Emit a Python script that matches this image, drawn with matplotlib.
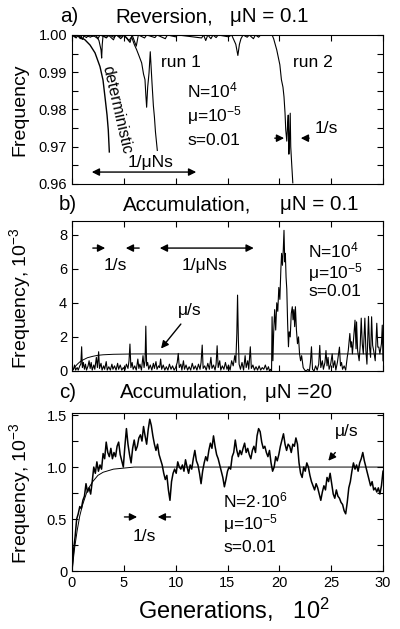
import numpy as np
import matplotlib
matplotlib.use("Agg")
import matplotlib.pyplot as plt

plt.rcParams['font.family'] = ['Liberation Sans', 'DejaVu Sans']
plt.rcParams['mathtext.fontset'] = 'custom'
plt.rcParams['mathtext.rm'] = 'Liberation Sans'
plt.rcParams['mathtext.it'] = 'Liberation Sans:italic'

# ---------------- data (x in units of 10^2 generations) ----------------
det_x = [0.0, 0.39, 0.77, 1.25, 1.74, 2.22, 2.70, 2.99, 3.18, 3.38, 3.50, 3.60]
det_y = [1.0, 0.9999, 0.9995, 0.9987, 0.9973, 0.9952, 0.9915, 0.9879, 0.9834, 0.9785, 0.9745, 0.9686]

run1_x = [0.0, 0.3, 0.5, 0.8, 1.0, 1.4, 1.6, 2.0, 2.3, 2.6, 2.80, 2.86, 2.92, 3.0, 3.3, 3.6,
          4.0, 4.3, 4.7, 5.0, 5.3, 5.5, 5.75, 6.0, 6.24, 6.45, 6.72, 6.90, 7.04, 7.12, 7.20,
          7.30, 7.43, 7.55, 7.62, 7.72, 7.85, 7.95, 8.05, 8.23]
run1_y = [1.0, 0.9995, 1.0, 0.9990, 1.0, 0.9993, 1.0, 0.9996, 1.0, 0.9985, 0.9960, 0.9938, 0.9975,
          1.0, 0.9992, 1.0, 0.9994, 1.0, 0.9990, 1.0, 0.9992, 0.9985, 0.9995, 0.9975, 0.9960,
          0.9945, 0.9925, 0.9895, 0.9880, 0.9840, 0.9806, 0.9860, 0.9898, 0.9955, 0.9920,
          0.9870, 0.9810, 0.9780, 0.9740, 0.9690]

run2_x = [0.0, 0.4, 0.6, 1.0, 1.2, 1.8, 2.0, 2.5, 2.7, 3.3, 3.5, 4.0, 4.2, 4.8, 5.0, 5.6, 5.8,
          6.2, 6.4, 7.0, 7.2, 8.0, 8.2, 9.0, 9.2, 10.0, 10.2, 12.5, 12.7, 12.9, 13.1, 13.4,
          13.6, 13.9, 14.1, 15.1, 15.4, 15.8, 16.0, 16.15, 16.3, 16.5, 16.9, 17.1, 17.5, 17.7,
          18.0, 18.2, 19.3, 19.45, 19.60, 19.75, 19.90, 20.05, 20.20, 20.35, 20.45, 20.55,
          20.62, 20.72, 20.80, 20.86, 20.92, 20.98, 21.05, 21.10, 21.20, 21.30]
run2_y = [1.0, 0.9992, 1.0, 0.9988, 1.0, 0.9994, 1.0, 0.9990, 1.0, 0.9993, 1.0, 0.9987, 1.0,
          0.9994, 1.0, 0.9980, 1.0, 0.9970, 1.0, 0.9992, 1.0, 0.9993, 1.0, 0.9990, 1.0, 0.9995,
          1.0, 0.9992, 1.0, 0.9985, 1.0, 0.9990, 1.0, 0.9993, 1.0, 0.9995, 1.0, 0.9975, 0.9945,
          0.9975, 0.9990, 1.0, 0.9994, 1.0, 0.9990, 1.0, 0.9994, 1.0, 1.0, 0.9990, 0.9975,
          0.9960, 0.9940, 0.9920, 0.9880, 0.9860, 0.9834, 0.9790, 0.9745, 0.9715, 0.9760,
          0.9785, 0.9680, 0.9720, 0.9790, 0.9700, 0.9650, 0.9603]

# mu/s approach curve (panels b and c)
musat_x = [0.0, 0.25, 0.5, 0.75, 1.0, 1.5, 2.0, 2.5, 3.0, 4.0, 5.0, 6.0, 30.0]
musat_y = [0.0, 0.22, 0.39, 0.53, 0.63, 0.78, 0.86, 0.92, 0.95, 0.98, 0.99, 1.0, 1.0]

accb_pts = [
    (0.00, 0.00), (0.15, 0.10), (0.25, 0.35), (0.35, 0.05), (0.50, 0.20), (0.60, 0.05),
    (0.75, 0.30), (0.85, 0.40), (0.93, 1.42), (1.00, 0.20), (1.10, 0.50), (1.20, 0.10),
    (1.30, 0.40), (1.40, 0.05), (1.55, 0.30), (1.65, 0.60), (1.75, 0.15), (1.85, 0.50),
    (1.95, 0.05), (2.10, 0.35), (2.20, 0.10), (2.35, 0.80), (2.45, 0.20), (2.57, 1.13),
    (2.65, 0.15), (2.80, 0.45), (2.90, 0.05), (3.05, 0.30), (3.15, 0.10), (3.30, 0.55),
    (3.40, 0.05), (3.55, 0.25), (3.70, 0.05), (3.85, 0.40), (3.95, 0.10), (4.10, 0.30),
    (4.25, 0.05), (4.40, 0.45), (4.50, 0.10), (4.65, 0.35), (4.80, 0.05), (4.95, 0.20),
    (5.10, 0.05), (5.25, 0.40), (5.40, 0.15), (5.50, 0.60), (5.59, 1.58), (5.68, 0.20),
    (5.80, 0.50), (5.90, 0.10), (6.05, 0.30), (6.20, 0.05), (6.35, 0.70), (6.45, 0.15),
    (6.55, 0.40), (6.70, 0.05), (6.85, 0.90), (6.95, 0.20), (7.05, 0.60), (7.12, 2.63),
    (7.20, 0.30), (7.30, 0.50), (7.40, 0.10), (7.55, 0.35), (7.70, 0.05), (7.85, 0.45),
    (7.95, 0.15), (8.10, 0.55), (8.20, 0.10), (8.35, 0.30), (8.45, 0.20), (8.55, 0.70),
    (8.65, 0.10), (8.80, 0.35), (8.95, 0.05), (9.10, 0.25), (9.25, 0.05), (9.40, 0.40),
    (9.55, 0.10), (9.70, 0.30), (9.85, 0.05), (10.00, 0.20), (10.15, 0.50), (10.25, 1.03),
    (10.35, 0.20), (10.50, 0.40), (10.60, 0.05), (10.75, 0.60), (10.85, 0.10), (11.00, 0.35),
    (11.15, 0.05), (11.30, 0.25), (11.45, 0.05), (11.60, 0.45), (11.75, 0.10), (11.90, 0.30),
    (12.05, 0.05), (12.20, 0.40), (12.35, 0.10), (12.45, 0.50), (12.56, 1.52), (12.65, 0.15),
    (12.80, 0.30), (12.95, 0.05), (13.10, 0.45), (13.25, 0.10), (13.40, 0.80), (13.50, 0.15),
    (13.65, 0.35), (13.80, 0.05), (13.90, 0.40), (14.00, 1.48), (14.10, 0.20), (14.25, 0.60),
    (14.35, 0.05), (14.50, 0.30), (14.65, 0.10), (14.80, 0.50), (14.95, 0.10), (15.10, 0.35),
    (15.25, 0.05), (15.40, 0.60), (15.55, 0.30), (15.70, 0.90), (15.80, 0.50), (15.90, 2.20),
    (15.97, 4.45), (16.05, 1.80), (16.12, 0.40), (16.25, 0.10), (16.40, 0.50), (16.55, 0.05),
    (16.70, 0.90), (16.80, 0.20), (16.95, 0.60), (17.05, 0.10), (17.20, 1.42), (17.30, 0.15),
    (17.45, 0.35), (17.60, 0.05), (17.75, 0.25), (17.90, 0.05), (18.05, 0.30), (18.20, 0.05),
    (18.35, 0.20), (18.50, 0.10), (18.65, 0.35), (18.80, 0.05), (18.95, 0.25), (19.05, 0.00),
    (19.15, 0.10), (19.25, 0.00), (19.30, 3.18), (19.38, 0.60), (19.45, 2.20), (19.55, 3.60),
    (19.65, 2.40), (19.75, 4.00), (19.85, 3.50), (19.95, 4.90), (20.05, 4.20), (20.15, 6.00),
    (20.22, 6.90), (20.30, 6.20), (20.38, 7.10), (20.45, 8.25), (20.52, 6.40), (20.58, 6.90),
    (20.65, 5.50), (20.72, 4.80), (20.80, 2.80), (20.88, 1.42), (20.95, 2.30), (21.05, 2.00),
    (21.15, 3.37), (21.25, 3.77), (21.32, 3.00), (21.40, 3.60), (21.48, 2.60), (21.55, 3.77),
    (21.65, 2.40), (21.75, 1.60), (21.85, 2.00), (21.95, 1.00), (22.05, 0.60), (22.15, 0.90),
    (22.30, 0.20), (22.45, 0.05), (22.60, 0.00), (22.75, 0.10), (22.90, 0.00), (23.00, 0.50),
    (23.10, 1.42), (23.20, 0.10), (23.35, 0.00), (23.50, 0.30), (23.65, 0.05), (23.80, 0.40),
    (23.90, 1.50), (24.00, 0.20), (24.15, 0.60), (24.25, 0.10), (24.40, 0.50), (24.50, 1.20),
    (24.60, 0.30), (24.70, 0.80), (24.80, 0.10), (24.95, 0.40), (25.10, 1.00), (25.20, 0.20),
    (25.35, 0.60), (25.45, 0.05), (25.60, 0.50), (25.80, 1.40), (25.90, 0.30), (26.00, 0.50),
    (26.10, 0.10), (26.25, 0.30), (26.40, 0.05), (26.55, 0.80), (26.65, 1.20), (26.80, 2.20),
    (26.90, 1.40), (26.97, 1.71), (27.05, 1.00), (27.15, 1.80), (27.30, 2.98), (27.40, 1.30),
    (27.45, 2.88), (27.55, 1.20), (27.70, 0.60), (27.80, 1.50), (27.90, 3.10), (28.00, 1.60),
    (28.10, 1.00), (28.25, 3.10), (28.35, 1.20), (28.45, 0.40), (28.60, 3.20), (28.70, 1.40),
    (28.80, 0.80), (28.90, 3.18), (29.00, 1.50), (29.10, 1.20), (29.25, 0.60), (29.40, 2.80),
    (29.50, 1.40), (29.60, 1.40), (29.70, 1.00), (29.85, 1.60), (29.93, 2.69), (30.00, 0.60),
]
accb_x = [p[0] for p in accb_pts]
accb_y = [p[1] for p in accb_pts]

accc_y = [
    0.00, 0.20, 0.33, 0.50, 0.55, 0.62, 0.60, 0.68, 0.72, 0.84, 0.76, 0.80, 0.74, 0.86, 1.00,
    0.94, 1.05, 0.96, 1.02, 0.98, 1.13, 1.08, 1.24, 1.14, 1.10, 1.18, 1.08, 1.14, 1.10, 1.20,
    1.24, 1.12, 1.06, 1.00, 1.20, 1.37, 1.22, 1.12, 1.04, 1.18, 1.26, 1.16, 1.20, 1.28, 1.31,
    1.25, 1.39, 1.30, 1.22, 1.36, 1.46, 1.40, 1.30, 1.22, 1.16, 1.22, 1.12, 1.07, 1.02, 0.94,
    0.88, 0.92, 0.78, 0.68, 0.86, 0.94, 0.98, 0.94, 1.05, 1.00, 0.98, 1.02, 0.96, 1.07, 1.00,
    0.94, 1.02, 0.98, 1.08, 1.16, 1.06, 1.02, 0.94, 0.84, 0.96, 1.04, 1.10, 1.06, 1.16, 1.23,
    1.18, 1.30, 1.20, 1.12, 1.08, 1.02, 0.96, 0.90, 0.81, 0.88, 0.96, 1.00, 0.98, 1.10, 1.14,
    1.26, 1.16, 1.10, 1.16, 1.12, 1.18, 1.23, 1.14, 1.18, 1.12, 1.08, 1.16, 1.20, 1.14, 1.30,
    1.37, 1.34, 1.24, 1.18, 1.20, 1.14, 1.10, 1.16, 1.04, 0.96, 1.00, 1.10, 1.06, 1.12, 1.20,
    1.26, 1.32, 1.22, 1.16, 1.22, 1.20, 1.14, 1.22, 1.20, 1.28, 1.22, 1.04, 0.94, 0.90, 1.00,
    0.96, 1.04, 1.00, 0.92, 0.86, 0.82, 0.78, 0.84, 0.80, 0.74, 0.68, 0.76, 0.82, 0.78, 0.90,
    0.86, 0.94, 0.84, 0.74, 0.70, 0.78, 0.72, 0.70, 0.66, 0.64, 0.58, 0.55, 0.66, 0.80, 0.86,
    0.96, 1.04, 0.98, 1.02, 0.96, 1.04, 1.08, 1.14, 1.06, 1.00, 0.94, 0.88, 0.82, 0.86, 0.78,
    0.80, 0.76, 0.80, 0.74, 0.82, 0.96,
]
accc_x = np.linspace(0, 30, len(accc_y))

x_ticks = [0, 5, 10, 15, 20, 25, 30]

# ---------------- figure ----------------
fig = plt.figure(figsize=(4.0, 6.29), dpi=100)
L, W = 0.18, 0.7775
ax_a = fig.add_axes([L, 0.7075, W, 0.2369])
ax_b = fig.add_axes([L, 0.4102, W, 0.2385])
ax_c = fig.add_axes([L, 0.0922, W, 0.2512])

FS_T = 14.8
FS_Y = 14
FS_ANN = 12.5
FS_TICK = 10.5
lw_data = 0.8

for ax in (ax_a, ax_b, ax_c):
    ax.set_xlim(0, 30)
    ax.set_xticks(x_ticks)
    ax.tick_params(which='both', direction='in', top=True, right=True, labelsize=FS_TICK)
    ax.tick_params(which='major', length=4, width=0.8)
    ax.tick_params(which='minor', length=4, width=0.8)
    for s in ax.spines.values():
        s.set_linewidth(0.8)

ax_a.tick_params(labelbottom=False)
ax_b.tick_params(labelbottom=False)

# ---- panel a ----
ax_a.plot(det_x, det_y, color='black', lw=1.0)
ax_a.plot(run1_x, run1_y, color='black', lw=lw_data)
ax_a.plot(run2_x, run2_y, color='black', lw=lw_data)
ax_a.set_ylim(0.96, 1.0)
ax_a.set_yticks([0.96, 0.97, 0.98, 0.99, 1.00])
ax_a.set_yticks([0.965, 0.975, 0.985, 0.995], minor=True)
ax_a.set_yticklabels(['0.96', '0.97', '0.98', '0.99', '1.00'])
ax_a.text(4.3, 0.9800, 'deterministic', rotation=-77, ha='center', va='center', fontsize=11.5)
ax_a.text(10.5, 0.9927, 'run 1', ha='center', va='center', fontsize=FS_ANN)
ax_a.text(23.2, 0.9927, 'run 2', ha='center', va='center', fontsize=FS_ANN)
ax_a.text(11.1, 0.9852, r'N=10$^{4}$', ha='left', va='center', fontsize=FS_ANN)
ax_a.text(11.1, 0.9785, r'μ=10$^{-5}$', ha='left', va='center', fontsize=FS_ANN)
ax_a.text(11.1, 0.9718, 's=0.01', ha='left', va='center', fontsize=FS_ANN)
ax_a.text(23.4, 0.9750, '1/s', ha='left', va='center', fontsize=FS_ANN)
arw = dict(arrowstyle='-|>', color='black', lw=1.0, mutation_scale=11)
ax_a.annotate('', xy=(20.73, 0.9723), xytext=(19.29, 0.9723), arrowprops=arw)
ax_a.annotate('', xy=(21.8, 0.9723), xytext=(23.14, 0.9723), arrowprops=arw)
ax_a.text(7.6, 0.9659, '1/μNs', ha='center', va='center', fontsize=FS_ANN)
ax_a.annotate('', xy=(1.64, 0.9632), xytext=(12.25, 0.9632),
              arrowprops=dict(arrowstyle='<|-|>', color='black', lw=1.0, mutation_scale=11))

# ---- panel b ----
ax_b.plot(musat_x, musat_y, color='black', lw=0.7)
ax_b.plot(accb_x, accb_y, color='black', lw=lw_data)
ax_b.set_ylim(0, 8.8)
ax_b.set_yticks([0, 2, 4, 6, 8])
ax_b.annotate('', xy=(3.47, 7.21), xytext=(1.74, 7.21), arrowprops=arw)
ax_b.annotate('', xy=(4.92, 7.21), xytext=(6.75, 7.21), arrowprops=arw)
ax_b.text(4.15, 6.2, '1/s', ha='center', va='center', fontsize=FS_ANN)
ax_b.annotate('', xy=(8.2, 7.21), xytext=(17.8, 7.21),
              arrowprops=dict(arrowstyle='<|-|>', color='black', lw=1.0, mutation_scale=11))
ax_b.text(12.8, 6.2, '1/μNs', ha='center', va='center', fontsize=FS_ANN)
ax_b.text(11.4, 3.57, 'μ/s', ha='center', va='center', fontsize=FS_ANN)
ax_b.annotate('', xy=(8.42, 1.19), xytext=(10.67, 2.88), arrowprops=arw)
ax_b.text(22.8, 7.07, r'N=10$^{4}$', ha='left', va='center', fontsize=FS_ANN)
ax_b.text(22.8, 5.80, r'μ=10$^{-5}$', ha='left', va='center', fontsize=FS_ANN)
ax_b.text(22.8, 4.64, 's=0.01', ha='left', va='center', fontsize=FS_ANN)

# ---- panel c ----
ax_c.plot(musat_x, musat_y, color='black', lw=0.7)
ax_c.plot(accc_x, accc_y, color='black', lw=1.1)
ax_c.set_ylim(0, 1.52)
ax_c.set_yticks([0, 0.5, 1.0, 1.5])
ax_c.set_yticks([0.25, 0.75, 1.25], minor=True)
ax_c.set_yticklabels(['0', '0.5', '1.0', '1.5'])
ax_c.text(26.5, 1.34, 'μ/s', ha='center', va='center', fontsize=FS_ANN)
ax_c.annotate('', xy=(24.55, 1.04), xytext=(25.57, 1.16), arrowprops=arw)
ax_c.text(14.58, 0.68, r'N=2$\cdot$10$^{6}$', ha='left', va='center', fontsize=FS_ANN)
ax_c.text(14.58, 0.46, r'μ=10$^{-5}$', ha='left', va='center', fontsize=FS_ANN)
ax_c.text(14.58, 0.23, 's=0.01', ha='left', va='center', fontsize=FS_ANN)
ax_c.annotate('', xy=(6.55, 0.52), xytext=(4.79, 0.52), arrowprops=arw)
ax_c.annotate('', xy=(8.0, 0.52), xytext=(9.77, 0.52), arrowprops=arw)
ax_c.text(6.94, 0.33, '1/s', ha='center', va='center', fontsize=FS_ANN)

# ---- titles and labels ----
def fy(py):
    return 1 - py / 629.0

def fx(px):
    return px / 400.0

fig.text(fx(60), fy(17), 'a)', fontsize=FS_T, va='center', ha='left')
fig.text(fx(115), fy(17), 'Reversion,', fontsize=FS_T, va='center', ha='left')
fig.text(fx(230), fy(17), 'μN = 0.1', fontsize=FS_T, va='center', ha='left')
fig.text(fx(59), fy(205), 'b)', fontsize=FS_T, va='center', ha='left')
fig.text(fx(123), fy(205), 'Accumulation,', fontsize=FS_T, va='center', ha='left')
fig.text(fx(280), fy(205), 'μN = 0.1', fontsize=FS_T, va='center', ha='left')
fig.text(fx(59), fy(392), 'c)', fontsize=FS_T, va='center', ha='left')
fig.text(fx(120), fy(392), 'Accumulation,', fontsize=FS_T, va='center', ha='left')
fig.text(fx(265), fy(392), 'μN =20', fontsize=FS_T, va='center', ha='left')

fig.text(fx(20), fy(110), 'Frequency', rotation=90, fontsize=FS_Y, va='center', ha='center')
fig.text(fx(20), fy(298), r'Frequency, 10$^{-3}$', rotation=90, fontsize=FS_Y, va='center', ha='center')
fig.text(fx(20), fy(493), r'Frequency, 10$^{-3}$', rotation=90, fontsize=FS_Y, va='center', ha='center')
fig.text(fx(234), fy(610), r'Generations,   10$^{2}$', fontsize=17, va='center', ha='center')

fig.savefig('out.png', dpi=100)
